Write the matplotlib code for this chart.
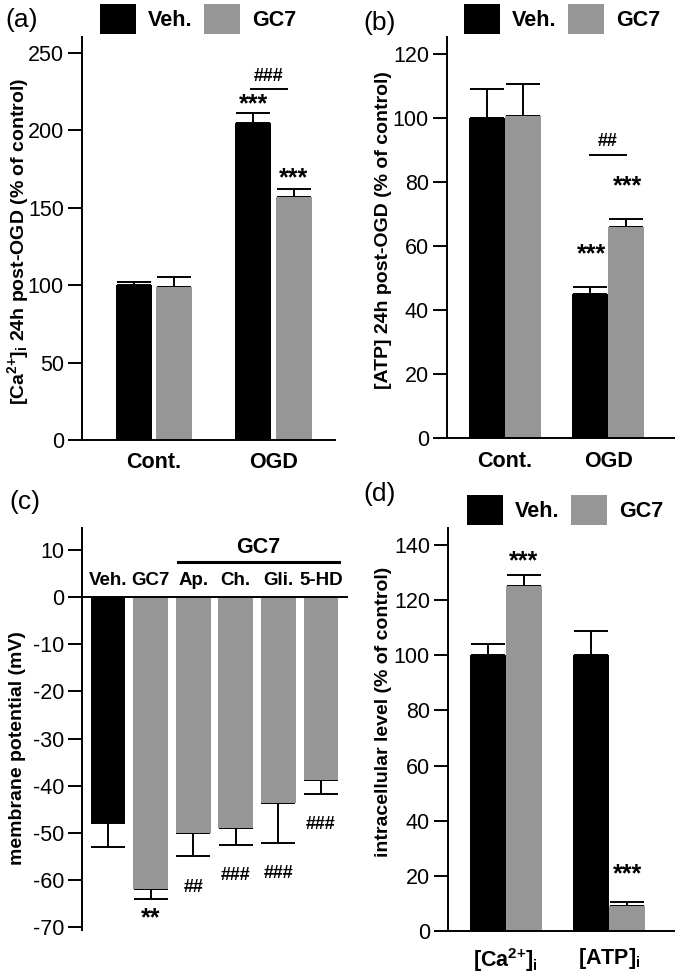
#!/usr/bin/env python3
"""Four-panel bar figure: Ca2+ / ATP after OGD, membrane potential, intracellular levels."""

import matplotlib
matplotlib.use('Agg')
import matplotlib.pyplot as plt
from matplotlib.patches import Patch

plt.rcParams['font.family'] = ['Liberation Sans', 'DejaVu Sans']
plt.rcParams['mathtext.fontset'] = 'custom'
plt.rcParams['mathtext.rm'] = 'Liberation Sans'
plt.rcParams['mathtext.bf'] = 'Liberation Sans:bold'
plt.rcParams['mathtext.it'] = 'Liberation Sans:italic'
plt.rcParams['axes.unicode_minus'] = False

# ---- data ----
groups_ab = ['Cont.', 'OGD']
ca_veh = [100, 205]
ca_veh_err = [2, 6]
ca_gc7 = [99, 157]
ca_gc7_err = [6, 5]

atp_veh = [100, 45]
atp_veh_err = [9, 2.3]
atp_gc7 = [100.5, 66]
atp_gc7_err = [10, 2.4]

mp_labels = ['Veh.', 'GC7', 'Ap.', 'Ch.', 'Gli.', '5-HD']
mp_values = [-48, -62, -50, -49, -43.7, -38.8]
mp_err = [5, 2, 5, 3.5, 8.5, 3]
mp_marks = ['', '**', '##', '###', '###', '###']

CA_I = r'[Ca$^{\mathbf{2}\mathbf{+}}$]$_{\mathbf{i}}$'
groups_d = [CA_I, r'[ATP]$_{\mathbf{i}}$']
lvl_veh = [100, 100]
lvl_veh_err = [4, 9]
lvl_gc7 = [125, 9]
lvl_gc7_err = [4, 1.5]

BLACK = '#000000'
GRAY = '#969696'
W, H = 680, 974
LW = 1.4


def px_axes(fig, left, top, right, bottom):
    return fig.add_axes([left / W, 1 - bottom / H, (right - left) / W, (bottom - top) / H])


def style(ax):
    for s in ['top', 'right']:
        ax.spines[s].set_visible(False)
    for s in ['left', 'bottom']:
        ax.spines[s].set_linewidth(LW)
    ax.tick_params(axis='y', direction='out', length=10, width=LW, pad=3, labelsize=15.5)
    ax.tick_params(axis='x', length=0, pad=9)


def bars(ax, x, vals, errs, color, width):
    ax.bar(x, vals, width, color=color, zorder=2)
    lo = [0 if v >= 0 else e for v, e in zip(vals, errs)]
    hi = [e if v >= 0 else 0 for v, e in zip(vals, errs)]
    ax.errorbar(x, vals, yerr=[lo, hi], fmt='none', ecolor='black', elinewidth=LW,
                capsize=12.5, capthick=LW, zorder=1)


def legend(ax, fig, cx, cy):
    handles = [Patch(facecolor=BLACK), Patch(facecolor=GRAY)]
    ax.legend(handles, ['Veh.', 'GC7'], ncol=2, frameon=False, loc='center',
              bbox_to_anchor=(cx / W, 1 - cy / H), bbox_transform=fig.transFigure,
              prop={'weight': 'bold', 'size': 15.5}, handlelength=1.7, handleheight=1.75,
              handletextpad=0.55, columnspacing=0.5, borderpad=0, borderaxespad=0)


def stars(ax, x, y, s, size=18):
    ax.text(x, y, s, ha='center', va='center', fontsize=size, fontweight='bold')


fig = plt.figure(figsize=(W / 100, H / 100), dpi=100)

# ---- (a) ----
ax = px_axes(fig, 82, 37, 335, 440)
xa = list(range(len(groups_ab)))
bars(ax, [v - 0.17 for v in xa], ca_veh, ca_veh_err, BLACK, 0.30)
bars(ax, [v + 0.17 for v in xa], ca_gc7, ca_gc7_err, GRAY, 0.30)
ax.set_xlim(-0.603, 1.515)
ax.set_ylim(0, 260.3)
ax.set_yticks([0, 50, 100, 150, 200, 250])
ax.set_xticks(xa)
ax.set_xticklabels(groups_ab, fontsize=15.5, fontweight='bold')
style(ax)
stars(ax, 0.83, 217, '***')
stars(ax, 1.17, 169, '***')
ax.plot([0.81, 1.11], [226.7, 226.7], color='black', lw=LW)
stars(ax, 0.96, 234.5, '###', size=13)
legend(ax, fig, 198, 19)

# ---- (b) ----
ax = px_axes(fig, 447, 37, 674, 438)
xb = list(range(len(groups_ab)))
bars(ax, [v - 0.174 for v in xb], atp_veh, atp_veh_err, BLACK, 0.348)
bars(ax, [v + 0.174 for v in xb], atp_gc7, atp_gc7_err, GRAY, 0.348)
ax.set_xlim(-0.560, 1.633)
ax.set_ylim(0, 125.3)
ax.set_yticks([0, 20, 40, 60, 80, 100, 120])
ax.set_xticks(xb)
ax.set_xticklabels(groups_ab, fontsize=15.5, fontweight='bold')
style(ax)
stars(ax, 0.84, 57.5, '***')
stars(ax, 1.18, 78.5, '***')
ax.plot([0.82, 1.17], [88.4, 88.4], color='black', lw=LW)
stars(ax, 0.995, 92.5, '##', size=13)
legend(ax, fig, 562, 19)

# ---- (c) ----
ax = px_axes(fig, 82, 528, 347, 930)
xc = list(range(len(mp_labels)))
bars(ax, xc, mp_values, mp_err, [BLACK] + [GRAY] * (len(xc) - 1), 0.82)
ax.set_xlim(-0.610, 5.61)
ax.set_ylim(-70.6, 14.64)
ax.set_yticks([10, 0, -10, -20, -30, -40, -50, -60, -70])
ax.set_xticks([])
style(ax)
ax.spines['bottom'].set_position(('data', 0))
ax.spines['bottom'].set_zorder(3)
for x, lab in zip(xc, mp_labels):
    ax.text(x, 3.6, lab, ha='center', va='center', fontsize=13.5, fontweight='bold')
for x, v, e, m in zip(xc, mp_values, mp_err, mp_marks):
    if m:
        if m.startswith('*'):
            stars(ax, x, v - e - 4.2, m)
        else:
            stars(ax, x, v - e - 6.5, m, size=13)
ax.plot([1.64, 5.42], [7.4, 7.4], color='black', lw=2.2)
ax.text(3.53, 10.6, 'GC7', ha='center', va='center', fontsize=15.5, fontweight='bold')

# ---- (d) ----
ax = px_axes(fig, 448, 528, 674, 931)
xd = list(range(len(groups_d)))
bars(ax, [v - 0.174 for v in xd], lvl_veh, lvl_veh_err, BLACK, 0.348)
bars(ax, [v + 0.174 for v in xd], lvl_gc7, lvl_gc7_err, GRAY, 0.348)
ax.set_xlim(-0.556, 1.628)
ax.set_ylim(0, 146.2)
ax.set_yticks([0, 20, 40, 60, 80, 100, 120, 140])
ax.set_xticks(xd)
ax.set_xticklabels(groups_d, fontsize=15.5, fontweight='bold')
style(ax)
ax.tick_params(axis='x', pad=11)
stars(ax, 0.174, 134, '***')
stars(ax, 1.174, 20.5, '***')
legend(ax, fig, 565, 510)

# ---- axis titles and panel letters ----
ylab = dict(rotation=90, ha='center', va='center', fontsize=14, fontweight='bold')
fig.text(18 / W, 1 - 241 / H, CA_I + ' 24h post-OGD (% of control)', **ylab)
fig.text(384 / W, 1 - 230 / H, '[ATP] 24h post-OGD (% of control)', **ylab)
fig.text(18 / W, 1 - 748 / H, 'membrane potential (mV)', **ylab)
fig.text(384 / W, 1 - 712 / H, 'intracellular level (% of control)', **ylab)

for x, y, s in [(22, 20, '(a)'), (380, 23, '(b)'), (25, 502, '(c)'), (380, 494, '(d)')]:
    fig.text(x / W, 1 - y / H, s, ha='center', va='center', fontsize=19)

fig.savefig('out.png', dpi=100)
